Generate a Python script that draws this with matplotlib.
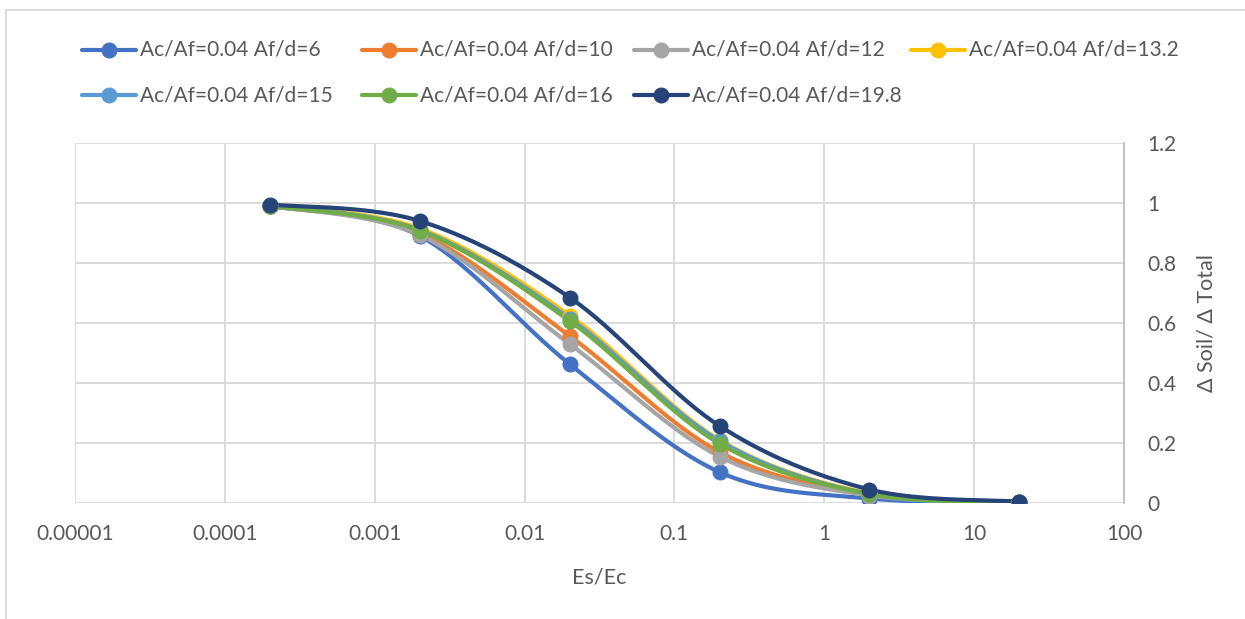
import numpy as np
import matplotlib
matplotlib.use("Agg")
import matplotlib.pyplot as plt
from matplotlib.lines import Line2D

plt.rcParams['font.family'] = ['Lato', 'DejaVu Sans']

# ---- data ----
es_ec = [0.0002, 0.002, 0.02, 0.2, 2, 20]
series_labels = ["Ac/Af=0.04 Af/d=6", "Ac/Af=0.04 Af/d=10", "Ac/Af=0.04 Af/d=12",
                 "Ac/Af=0.04 Af/d=13.2", "Ac/Af=0.04 Af/d=15", "Ac/Af=0.04 Af/d=16",
                 "Ac/Af=0.04 Af/d=19.8"]
d6 = [0.990, 0.890, 0.463, 0.103, 0.015, 0.003]
d10 = [0.990, 0.898, 0.557, 0.170, 0.028, 0.004]
d12 = [0.990, 0.893, 0.530, 0.155, 0.025, 0.004]
d13_2 = [0.990, 0.915, 0.625, 0.210, 0.032, 0.004]
d15 = [0.990, 0.910, 0.615, 0.207, 0.030, 0.004]
d16 = [0.990, 0.908, 0.607, 0.198, 0.030, 0.004]
d19_8 = [0.995, 0.940, 0.685, 0.257, 0.045, 0.005]
series_values = [d6, d10, d12, d13_2, d15, d16, d19_8]
colors = ["#4472C4", "#ED7D31", "#A5A5A5", "#FFC000", "#5B9BD5", "#70AD47", "#264478"]
xtick_vals = [0.00001, 0.0001, 0.001, 0.01, 0.1, 1, 10, 100]
xtick_labels = ["0.00001", "0.0001", "0.001", "0.01", "0.1", "1", "10", "100"]
ytick_vals = [0, 0.2, 0.4, 0.6, 0.8, 1.0, 1.2]
ytick_labels = ["0", "0.2", "0.4", "0.6", "0.8", "1", "1.2"]

W, H = 1245, 619
fig = plt.figure(figsize=(W / 100, H / 100), dpi=100)
ax = fig.add_axes([75 / W, 1 - 503 / H, (1124 - 75) / W, (503 - 143) / H])

TXT = "#595959"
GRID = "#D9D9D9"
FS = 15


def smooth(xs, ys, n=40):
    """Excel-like smooth line (Catmull-Rom Bezier) in (log10 x, y) space."""
    lx = np.log10(np.asarray(xs, float))
    y = np.asarray(ys, float)
    P = np.column_stack([lx, y])
    m = len(P)
    out = []
    for i in range(m - 1):
        p0 = P[i - 1] if i > 0 else P[i]
        p1 = P[i]
        p2 = P[i + 1]
        p3 = P[i + 2] if i + 2 < m else P[i + 1]
        c1 = p1 + (p2 - p0) / 6
        c2 = p2 - (p3 - p1) / 6
        t = np.linspace(0, 1, n)[:, None]
        seg = ((1 - t) ** 3) * p1 + 3 * ((1 - t) ** 2) * t * c1 + 3 * (1 - t) * t ** 2 * c2 + t ** 3 * p2
        if i > 0:
            seg = seg[1:]
        out.append(seg)
    out = np.vstack(out)
    return 10 ** out[:, 0], out[:, 1]


for vals, col, lab in zip(series_values, colors, series_labels):
    sx, sy = smooth(es_ec, vals)
    ax.plot(sx, sy, color=col, lw=3.0, solid_capstyle='round', zorder=3)
    ax.plot(es_ec, vals, 'o', color=col, ms=10.5, zorder=4, label=lab)

ax.set_xscale('log')
ax.set_xlim(1e-5, 100)
ax.set_ylim(0, 1.2)
ax.xaxis.set_minor_locator(matplotlib.ticker.NullLocator())
ax.set_xticks(xtick_vals)
ax.set_xticklabels(xtick_labels)
ax.xaxis.set_minor_locator(matplotlib.ticker.NullLocator())
ax.yaxis.tick_right()
ax.yaxis.set_label_position('right')
ax.set_yticks(ytick_vals)
ax.set_yticklabels(ytick_labels)
ax.tick_params(axis='both', length=0, labelsize=FS, labelcolor=TXT)
ax.tick_params(axis='x', pad=15)
ax.tick_params(axis='y', pad=17)
ax.grid(True, color=GRID, lw=1.3, zorder=0)
for s in ax.spines.values():
    s.set_visible(False)
ax.spines['right'].set_visible(True)
ax.spines['right'].set_color("#BFBFBF")
ax.spines['right'].set_linewidth(1.3)

ax.set_xlabel("Es/Ec", fontsize=FS + 0.5, color=TXT, labelpad=17)
ax.set_ylabel("Δ Soil/ Δ Total", fontsize=FS + 0.5, color=TXT, labelpad=14, rotation=90)

# legend drawn with equal-width columns, like the source
col_x = [82, 362, 634, 911]
row_y = [50, 95]
for k, (lab, col) in enumerate(zip(series_labels, colors)):
    r, c = divmod(k, 4)
    x0, y0 = col_x[c], row_y[r]
    fy = 1 - y0 / H
    fig.add_artist(Line2D([x0 / W, (x0 + 54) / W], [fy, fy], color=col, lw=3.0,
                          solid_capstyle='round', transform=fig.transFigure))
    fig.add_artist(Line2D([(x0 + 27) / W], [fy], marker='o', color=col, ms=10.5,
                          transform=fig.transFigure))
    fig.text((x0 + 58) / W, fy, lab, fontsize=FS, color=TXT, va='center', ha='left')

# chart border
fig.add_artist(Line2D([6 / W, 6 / W, 1.0], [0.0, 1 - 10 / H, 1 - 10 / H], color="#D9D9D9",
                      lw=1.3, transform=fig.transFigure))

fig.savefig("out.png", dpi=100)
